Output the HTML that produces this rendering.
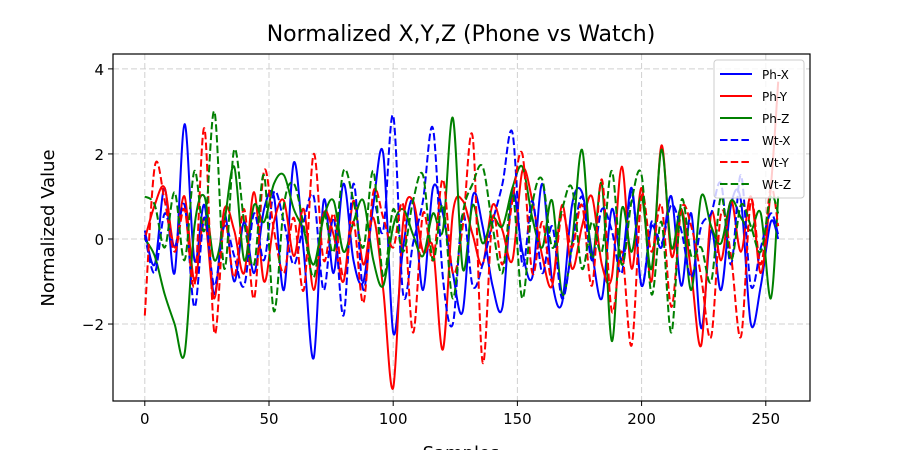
<!DOCTYPE html>
<html><head><meta charset="utf-8">
<style>
body{margin:0;background:#fff;}
svg{display:block;font-family:"DejaVu Sans","Liberation Sans",sans-serif;}
</style></head>
<body>
<svg id="chart" width="900" height="450" xmlns="http://www.w3.org/2000/svg">
<rect width="900" height="450" fill="#fff"/>
<text x="461" y="41" font-size="22" text-anchor="middle" fill="#000">Normalized X,Y,Z (Phone vs Watch)</text>
<g id="grid"></g><g id="series"></g><g id="axes"></g>
<text transform="translate(54,228) rotate(-90)" font-size="18" text-anchor="middle">Normalized Value</text>
<text x="461" y="459" font-size="18" text-anchor="middle">Samples</text>
<g id="legend"></g>
</svg>
<script>
const xTicks=[0,50,100,150,200,250];
const yTicks=[-2,0,2,4];
const yTickLabels=["\u22122","0","2","4"];
const step=4;
const phX=[0.2,-0.6,1.2,-0.8,2.7,-0.5,0.8,-1.3,0.6,-1.0,0.4,-0.8,0.7,1.0,-1.2,1.8,-0.3,-2.8,0.9,-0.8,1.3,-0.5,-1.0,0.8,2.0,-2.2,-0.2,0.9,-1.2,1.2,0.6,-0.8,-1.7,1.0,0.3,-1.1,-1.6,1.1,-0.3,-0.9,1.3,-1.0,-1.5,0.8,1.1,-0.3,-1.4,0.7,-0.5,1.2,-1.1,0.3,-0.2,1.0,-1.1,0.6,-2.1,0.2,-1.2,0.8,0.9,-2.0,-1.1,0.4,0.0];
const phY=[0.0,0.8,1.2,-0.2,1.0,-1.0,0.5,-1.4,0.7,0.2,-0.8,1.1,-1.0,0.4,0.9,-0.4,0.7,-1.2,0.6,0.1,-1.0,0.9,-0.6,0.5,-1.2,-3.5,0.4,0.9,-0.3,-0.2,-2.6,0.6,0.9,0.1,-0.6,0.8,0.2,-0.5,1.6,0.9,-0.4,-1.1,0.8,-0.7,0.3,1.0,-0.6,-0.9,1.7,-0.7,1.2,-1.0,2.2,-0.4,0.7,-0.8,-2.5,0.6,-0.5,0.9,-0.3,1.0,-0.8,1.2,3.7];
const phZ=[0.0,-0.4,-1.3,-2.0,-2.7,0.3,1.0,-0.5,0.4,1.7,-0.5,0.8,0.4,1.3,1.5,0.7,0.2,-0.6,0.5,0.9,-0.3,0.4,0.9,-0.5,-1.1,0.3,0.7,0.1,-0.4,0.6,0.2,2.85,-0.7,0.8,-0.1,0.5,0.3,1.2,1.7,0.5,-0.2,0.9,-1.3,-0.1,2.1,-0.5,1.3,-2.4,0.7,-0.3,1.0,-0.7,2.1,-0.2,0.7,-1.2,1.0,0.3,-0.1,0.9,0.5,0.2,0.6,-1.4,1.0];
const wtX=[0.1,-0.8,0.6,-0.2,0.8,-1.6,0.5,-1.1,0.3,-0.4,-1.1,0.6,-0.5,1.1,0.4,-0.6,0.4,1.0,-1.2,0.5,-1.8,1.3,-1.2,0.8,0.2,2.9,-1.3,-0.1,0.9,2.6,-0.9,-2.0,0.6,-1.1,-0.6,0.4,1.3,2.5,-0.6,0.9,-0.8,0.3,-1.4,-0.2,1.0,-0.5,0.7,0.2,-0.8,1.1,-1.1,0.4,-0.1,0.8,0.2,-0.9,0.3,0.6,1.3,-0.6,1.5,-1.1,-0.2,0.6,0.1];
const wtY=[-1.8,1.7,0.9,-0.3,0.7,-1.1,2.6,-2.2,0.4,-0.9,0.7,-1.4,1.6,0.2,-0.8,0.5,-1.2,2.0,-0.5,0.6,-0.9,0.4,-1.5,1.1,0.5,-0.2,0.8,-2.2,0.6,-0.5,1.4,-0.8,0.3,2.4,-2.9,0.5,-0.6,0.9,2.0,-0.8,0.4,-1.0,0.6,-0.2,0.8,-1.1,1.4,-1.7,-0.3,-2.5,1.0,-0.3,0.8,-1.6,0.7,0.3,-0.9,-2.3,0.6,-0.4,-2.3,0.9,-0.6,1.2,0.3];
const wtZ=[1.0,0.8,-0.2,1.1,-0.5,1.6,0.2,3.0,-0.7,2.1,0.4,-0.6,1.5,-1.7,0.8,1.3,0.3,-0.9,0.6,-0.3,1.6,0.9,-0.2,1.6,-0.9,0.7,-0.3,0.9,1.5,-0.5,0.8,-1.4,0.6,1.3,1.7,0.3,-0.8,1.1,-1.4,0.8,1.4,-0.2,0.7,1.2,-0.7,0.4,-0.3,1.6,-0.6,0.9,1.5,-1.3,0.4,-2.2,0.9,-0.4,-0.2,-1.0,1.0,-0.5,0.8,0.3,-0.3,1.0,0.6];
const seriesNames=["Ph-X","Ph-Y","Ph-Z","Wt-X","Wt-Y","Wt-Z"];
const seriesData=[phX,phY,phZ,wtX,wtY,wtZ];
const colors=["#0000ff","#ff0000","#008000","#0000ff","#ff0000","#008000"];
const dashed=[false,false,false,true,true,true];

const L=113,R=810,T=54,B=401;
const xMin=-12.8,xMax=267.8,yMin=-3.81,yMax=4.35;
const xs=v=>L+(v-xMin)/(xMax-xMin)*(R-L);
const ys=v=>B-(v-yMin)/(yMax-yMin)*(B-T);
const NS="http://www.w3.org/2000/svg";
function mk(tag,attrs,parent){const e=document.createElementNS(NS,tag);for(const k in attrs)e.setAttribute(k,attrs[k]);parent.appendChild(e);return e;}
const grid=document.getElementById('grid'),axes=document.getElementById('axes'),ser=document.getElementById('series');
xTicks.forEach(t=>{
  const g=mk('line',{x1:xs(t),x2:xs(t),y1:T,y2:B,stroke:'#d0d0d0','stroke-dasharray':'6,3','stroke-width':1},grid);
  
  
  const tk=mk('line',{x1:xs(t),x2:xs(t),y1:B,y2:B+5,stroke:'#000'},axes);
  
  
  const tx=mk('text',{x:xs(t),y:B+23,'font-size':15,'text-anchor':'middle'},axes);tx.textContent=t;
  
  
});
yTicks.forEach((t,i)=>{
  const g=mk('line',{x1:L,x2:R,y1:ys(t),y2:ys(t),stroke:'#d0d0d0','stroke-dasharray':'6,3','stroke-width':1},grid);
  
  
  const tk=mk('line',{x1:L-5,x2:L,y1:ys(t),y2:ys(t),stroke:'#000'},axes);
  
  
  const tx=mk('text',{x:L-9,y:ys(t)+6,'font-size':15,'text-anchor':'end'},axes);tx.textContent=yTickLabels[i];
  
  
});
const frame=mk('rect',{x:L,y:T,width:R-L,height:B-T,fill:'none',stroke:'#000','stroke-width':1.2},axes);


function pathFor(arr){
  const pts=arr.map((v,i)=>[xs(Math.min(i*step,255)),ys(v)]);
  let d='M'+pts[0][0]+','+pts[0][1];
  for(let i=0;i<pts.length-1;i++){
    const p0=pts[Math.max(i-1,0)],p1=pts[i],p2=pts[i+1],p3=pts[Math.min(i+2,pts.length-1)];
    const c1=[p1[0]+(p2[0]-p0[0])/6,p1[1]+(p2[1]-p0[1])/6],c2=[p2[0]-(p3[0]-p1[0])/6,p2[1]-(p3[1]-p1[1])/6];
    d+=`C${c1[0]},${c1[1]} ${c2[0]},${c2[1]} ${p2[0]},${p2[1]}`;
  }
  return d;
}
seriesData.forEach((arr,k)=>{
  const p=mk('path',{d:pathFor(arr),fill:'none',stroke:colors[k],'stroke-width':2,'stroke-dasharray':dashed[k]?'7.5,3.2':'none'},ser);
  
  
});
const lg=document.getElementById('legend');
const box=mk('rect',{x:714,y:60,width:90,height:138,fill:'#fff','fill-opacity':0.8,stroke:'#ccc',rx:3},lg);


seriesNames.forEach((n,k)=>{
  const y=74+k*22;
  const ln=mk('line',{x1:720,x2:752,y1:y,y2:y,stroke:colors[k],'stroke-width':2,'stroke-dasharray':dashed[k]?'7.5,3.2':'none'},lg);
  
  
  const t=mk('text',{x:762,y:y+5,'font-size':12},lg);t.textContent=n;
  
  
});
</script>
</body></html>
